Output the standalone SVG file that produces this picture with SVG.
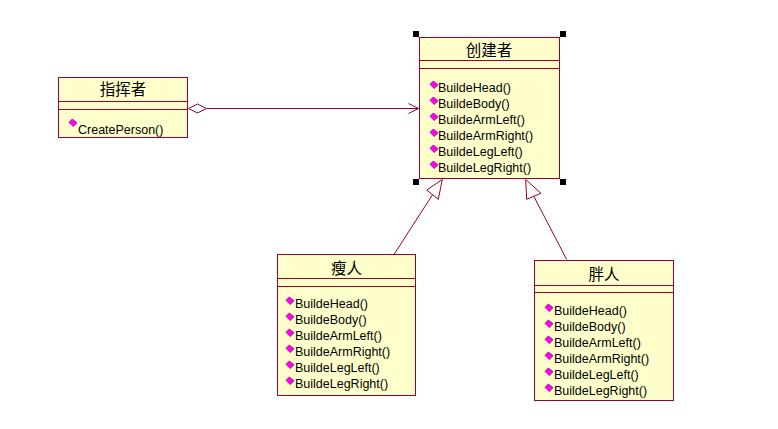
<svg xmlns="http://www.w3.org/2000/svg" width="778" height="429" viewBox="0 0 778 429">
<style>
.box{fill:#ffffcc;stroke:#990033;stroke-width:1}
.div{stroke:#990033;stroke-width:1;fill:none}
.title{font-family:"Noto Sans CJK SC","Liberation Sans",sans-serif;font-size:15.5px;fill:#000;text-anchor:middle}
.m{font-family:"Liberation Sans",Arial,sans-serif;font-size:12.5px;fill:#000}
.edge{stroke:#990033;stroke-width:1;fill:none}
.handle{fill:#000}
</style>
<defs>
<symbol id="ico" viewBox="0 0 8 8" width="8" height="8" overflow="visible">
<polygon points="0,3.3 3.3,0 8,3.8 4.2,7.6" fill="#ff00ff" stroke="#a0007f" stroke-width="0.8"/>
</symbol>
</defs>
<rect width="778" height="429" fill="#fff"/>
<g id="connectors">
<path class="edge" d="M206.5,108.5 H418.5"/>
<polygon class="edge" points="188.5,108.5 197.5,104 206.5,108.5 197.5,113" fill="#fff"/>
<polyline class="edge" points="408.5,103.5 418.5,108.5 408.5,113.5"/>
<path class="edge" d="M394,254.5 L432.5,194.7"/>
<polygon class="edge" points="442.3,179.5 426.7,190 438.3,199.3" fill="#fff"/>
<path class="edge" d="M566.7,259.5 L533.8,196.3"/>
<polygon class="edge" points="525.7,179.5 526.7,199.3 541,193.3" fill="#fff"/>
</g>
<g id="director">
<rect class="box" x="58.5" y="77.5" width="129" height="60"/>
<path class="div" d="M58.5,101.5 H187.5 M58.5,109.5 H187.5"/>
<text class="title" x="123" y="95">指挥者</text>
<use href="#ico" x="69" y="119"/>
<text class="m" x="78" y="133.5">CreatePerson()</text>
</g>
<g id="builder">
<rect class="box" x="419.5" y="37.5" width="140" height="141"/>
<path class="div" d="M419.5,60.5 H559.5 M419.5,68.5 H559.5"/>
<text class="title" x="489" y="55.5">创建者</text>
<rect class="handle" x="413" y="31" width="6" height="6"/>
<rect class="handle" x="560" y="31" width="6" height="6"/>
<rect class="handle" x="413" y="179" width="6" height="6"/>
<rect class="handle" x="560" y="179" width="6" height="6"/>
<use href="#ico" x="430" y="81"/>
<use href="#ico" x="430" y="97"/>
<use href="#ico" x="430" y="113"/>
<use href="#ico" x="430" y="129"/>
<use href="#ico" x="430" y="145"/>
<use href="#ico" x="430" y="161"/>
<text class="m" x="438" y="91.5">BuildeHead()</text>
<text class="m" x="438" y="107.5">BuildeBody()</text>
<text class="m" x="438" y="123.5">BuildeArmLeft()</text>
<text class="m" x="438" y="139.5">BuildeArmRight()</text>
<text class="m" x="438" y="155.5">BuildeLegLeft()</text>
<text class="m" x="438" y="171.5">BuildeLegRight()</text>
</g>
<g id="thin">
<rect class="box" x="277.5" y="254.5" width="138" height="141"/>
<path class="div" d="M277.5,278.5 H415.5 M277.5,286.5 H415.5"/>
<text class="title" x="346.5" y="274">瘦人</text>
<use href="#ico" x="286" y="297"/>
<use href="#ico" x="286" y="313"/>
<use href="#ico" x="286" y="329"/>
<use href="#ico" x="286" y="345"/>
<use href="#ico" x="286" y="361"/>
<use href="#ico" x="286" y="377"/>
<text class="m" x="295" y="308">BuildeHead()</text>
<text class="m" x="295" y="324">BuildeBody()</text>
<text class="m" x="295" y="340">BuildeArmLeft()</text>
<text class="m" x="295" y="356">BuildeArmRight()</text>
<text class="m" x="295" y="372">BuildeLegLeft()</text>
<text class="m" x="295" y="388">BuildeLegRight()</text>
</g>
<g id="fat">
<rect class="box" x="534.5" y="260.5" width="139" height="140"/>
<path class="div" d="M534.5,285.5 H673.5 M534.5,292.5 H673.5"/>
<text class="title" x="604" y="280">胖人</text>
<use href="#ico" x="545" y="304"/>
<use href="#ico" x="545" y="320"/>
<use href="#ico" x="545" y="336"/>
<use href="#ico" x="545" y="352"/>
<use href="#ico" x="545" y="368"/>
<use href="#ico" x="545" y="384"/>
<text class="m" x="554" y="314.5">BuildeHead()</text>
<text class="m" x="554" y="330.5">BuildeBody()</text>
<text class="m" x="554" y="346.5">BuildeArmLeft()</text>
<text class="m" x="554" y="362.5">BuildeArmRight()</text>
<text class="m" x="554" y="378.5">BuildeLegLeft()</text>
<text class="m" x="554" y="394.5">BuildeLegRight()</text>
</g>
</svg>
